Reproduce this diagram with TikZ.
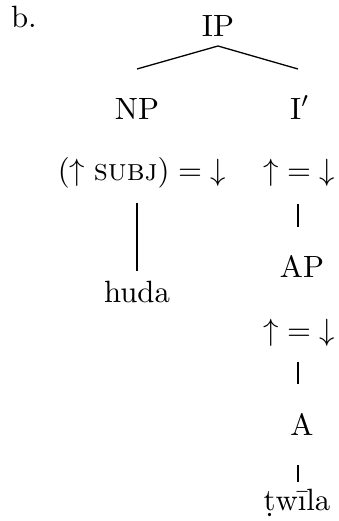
\documentclass[tikz,border=0pt]{standalone}
\usetikzlibrary{calc}
\begin{document}
\begin{tikzpicture}[x=0.325pt,y=-0.325pt,
  lab/.style={anchor=base,inner sep=0pt,outer sep=0pt},
  edge/.style={line width=0.42pt}]
\useasboundingbox (0,0) rectangle (339,521);
\node[lab,anchor=base west] (b) at (11,28) {b.};
\node[lab] (IP) at (218,37) {IP};
\node[lab] (NP) at (137,119) {NP};
\node[lab] (Ib) at (300,119) {I$'$};
\node[lab] (a1) at (142,180) {$(\uparrow\textsc{subj}) \mathrel{=} {\downarrow}$};
\node[lab] (a2) at (299,180) {$\uparrow {=} \downarrow$};
\node[lab] (huda) at (137,302) {huda};
\node[lab] (AP) at (302,277) {AP};
\node[lab] (a3) at (299,340) {$\uparrow {=} \downarrow$};
\node[lab] (A) at (302,435) {A};
\node[lab] (tw) at (297,510) {\d{t}w\={\i}la};
\coordinate (ipb) at ($(IP.base)+(0,9)$);
\draw[edge] (ipb) -- ($(NP.base)+(0,-50)$);
\draw[edge] (ipb) -- ($(Ib.base)+(-2,-50)$);
\draw[edge] ($(huda.base)+(0,-99)$) -- ($(huda.base)+(0,-31)$);
\draw[edge] ($(a2.base)+(-1,24)$) -- ($(a2.base)+(-1,47)$);
\draw[edge] ($(a3.base)+(-1,22)$) -- ($(a3.base)+(-1,44)$);
\draw[edge] ($(A.base)+(-4,30)$) -- ($(A.base)+(-4,47)$);
\end{tikzpicture}
\end{document}
